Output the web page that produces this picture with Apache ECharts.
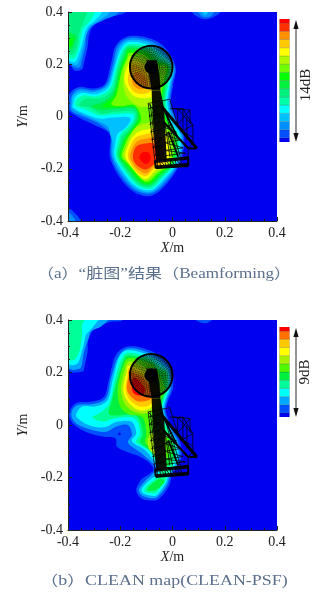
<!DOCTYPE html>
<html><head><meta charset="utf-8">
<style>html,body{margin:0;padding:0;background:#fff}#c{width:326px;height:597px}</style>
<script src="https://cdn.jsdelivr.net/npm/echarts@6/dist/echarts.min.js"></script>
</head><body><div id="c"></div>
<script>
const ticks=[-0.4,-0.2,0,0.2,0.4];
const captionA='（a）“脏图”结果（Beamforming）';
const captionB='（b）CLEAN map(CLEAN-PSF)';
const rangeA='14dB', rangeB='9dB';
const coloursA=['#0000f0','#0050ff','#0090ff','#00c0ff','#00ffff','#00ffa8','#00f080','#00f040','#00ff00','#70ff00','#b0f800','#ffff00','#ffc800','#ff9000','#ff3000','#ff0000'];
const coloursB=['#0000f0','#0050ff','#00a8ff','#00ffff','#00ff98','#00f040','#50f800','#a8f000','#ffff00','#ffc800','#ff7000','#ff0000'];

// Contours: [band, [[x,y],...]] in metres, painted in order.
const contoursA=[
[1,[[-.165,.308],[-.09,.30],[-.03,.265],[.012,.19],[.002,.12],[-.005,.05],[.02,-.02],[.045,-.08],[.03,-.175],[-.02,-.255],[-.08,-.303],[-.146,-.29],[-.203,-.232],[-.24,-.154],[-.24,-.07],[-.293,-.035],[-.356,-.005],[-.40,.03],[-.393,.088],[-.356,.113],[-.30,.107],[-.257,.127],[-.235,.204],[-.216,.273]]],
[1,[[-.45,.45],[-.16,.45],[-.176,.4],[-.24,.38],[-.296,.353],[-.318,.318],[-.325,.267],[-.338,.209],[-.347,.18],[-.376,.177],[-.395,.203],[-.45,.24]]],
[1,[[.07,.43],[.19,.43],[.185,.4],[.155,.38],[.125,.372],[.095,.382],[.075,.4]]],
[1,[[-.43,-.35],[-.39,-.355],[-.35,-.41],[-.43,-.43]]],
[2,[[-.165,.30],[-.09,.291],[-.035,.255],[.008,.19],[-.003,.12],[-.01,.05],[.013,-.02],[.04,-.08],[.026,-.175],[-.025,-.25],[-.08,-.294],[-.143,-.282],[-.197,-.226],[-.233,-.154],[-.233,-.07],[-.248,-.053],[-.286,-.025],[-.35,.003],[-.389,.026],[-.385,.081],[-.354,.106],[-.30,.1],[-.252,.123],[-.228,.2],[-.21,.268]]],
[2,[[-.45,.45],[-.19,.45],[-.21,.395],[-.262,.37],[-.31,.345],[-.331,.31],[-.334,.267],[-.347,.216],[-.354,.19],[-.372,.188],[-.398,.203],[-.45,.25]]],
[2,[[.085,.43],[.17,.43],[.15,.388],[.125,.38],[.105,.39]]],
[2,[[-.43,-.37],[-.395,-.37],[-.37,-.41],[-.43,-.43]]],
[3,[[-.165,.293],[-.09,.283],[-.04,.247],[.004,.19],[-.008,.12],[-.015,.05],[.006,-.02],[.035,-.08],[.021,-.175],[-.03,-.245],[-.08,-.288],[-.14,-.276],[-.192,-.22],[-.228,-.154],[-.229,-.104],[-.239,-.066],[-.248,-.038],[-.286,-.017],[-.344,.008],[-.382,.03],[-.385,.05],[-.38,.081],[-.35,.098],[-.30,.094],[-.248,.12],[-.223,.197],[-.204,.262]]],
[3,[[-.45,.45],[-.23,.45],[-.24,.4],[-.28,.368],[-.32,.337],[-.341,.267],[-.353,.222],[-.363,.2],[-.376,.198],[-.398,.209],[-.45,.25]]],
[3,[[.105,.43],[.15,.43],[.13,.39],[.115,.395]]],
[3,[[-.43,-.39],[-.385,-.41],[-.43,-.43]]],
[4,[[-.165,.285],[-.095,.275],[-.045,.24],[0,.19],[-.012,.12],[-.02,.05],[-.003,-.02],[.03,-.08],[.016,-.175],[-.034,-.24],[-.08,-.281],[-.137,-.27],[-.187,-.215],[-.221,-.154],[-.219,-.104],[-.21,-.066],[-.184,-.047],[-.161,-.017],[-.171,-.002],[-.235,-.004],[-.28,-.008],[-.344,.014],[-.38,.034],[-.38,.043],[-.372,.075],[-.344,.09],[-.295,.085],[-.244,.113],[-.219,.194],[-.198,.256]]],
[4,[[-.45,.45],[-.26,.45],[-.27,.4],[-.3,.365],[-.33,.335],[-.349,.267],[-.362,.229],[-.37,.211],[-.38,.208],[-.398,.216],[-.45,.25]]],
[4,[[.11,.43],[.145,.43],[.128,.395]]],
[5,[[-.165,.277],[-.095,.268],[-.05,.232],[-.005,.19],[-.017,.12],[-.025,.05],[-.008,-.02],[.026,-.08],[.012,-.175],[-.038,-.235],[-.08,-.275],[-.134,-.264],[-.182,-.21],[-.215,-.154],[-.21,-.104],[-.197,-.066],[-.171,-.04],[-.148,-.008],[-.158,.011],[-.229,.008],[-.28,.005],[-.331,.026],[-.372,.043],[-.363,.069],[-.338,.081],[-.29,.078],[-.239,.107],[-.214,.19],[-.193,.25]]],
[5,[[-.45,.45],[-.3,.45],[-.3,.395],[-.32,.36],[-.344,.331],[-.357,.267],[-.37,.231],[-.38,.221],[-.398,.226],[-.45,.25]]],
[6,[[-.165,.27],[-.1,.26],[-.055,.225],[-.01,.19],[-.022,.12],[-.03,.05],[-.012,-.02],[.021,-.08],[.008,-.175],[-.042,-.23],[-.085,-.269],[-.131,-.258],[-.178,-.205],[-.21,-.154],[-.203,-.104],[-.19,-.072],[-.165,-.047],[-.142,-.008],[-.152,.02],[-.222,.017],[-.274,.011],[-.318,.034],[-.359,.043],[-.331,.069],[-.28,.069],[-.231,.1],[-.209,.186],[-.188,.244]]],
[6,[[-.45,.45],[-.33,.45],[-.33,.39],[-.354,.331],[-.364,.273],[-.376,.244],[-.385,.236],[-.398,.239],[-.45,.26]]],
[7,[[-.165,.264],[-.1,.252],[-.06,.218],[-.014,.19],[-.027,.12],[-.035,.05],[-.016,-.02],[.017,-.08],[.004,-.175],[-.046,-.226],[-.085,-.262],[-.128,-.252],[-.173,-.2],[-.205,-.154],[-.197,-.11],[-.184,-.079],[-.158,-.047],[-.135,-.008],[-.146,.03],[-.216,.03],[-.267,.024],[-.312,.039],[-.267,.056],[-.226,.094],[-.204,.182],[-.183,.238]]],
[7,[[-.45,.33],[-.372,.312],[-.376,.28],[-.385,.257],[-.398,.257],[-.45,.26]]],
[8,[[-.165,.254],[-.1,.244],[-.065,.21],[-.018,.19],[-.032,.12],[-.04,.05],[-.02,-.02],[.012,-.08],[0,-.175],[-.05,-.222],[-.085,-.256],[-.125,-.246],[-.168,-.195],[-.2,-.154],[-.19,-.11],[-.178,-.081],[-.152,-.047],[-.129,-.008],[-.146,.037],[-.216,.034],[-.267,.039],[-.248,.056],[-.22,.088],[-.199,.178],[-.178,.232]]],
[8,[[-.45,.3],[-.385,.3],[-.382,.285],[-.39,.268],[-.45,.27]]],
[9,[[-.165,.244],[-.105,.235],[-.07,.2],[-.024,.19],[-.037,.12],[-.045,.05],[-.026,-.02],[.006,-.08],[-.005,-.175],[-.055,-.217],[-.09,-.25],[-.12,-.24],[-.163,-.19],[-.195,-.154],[-.184,-.11],[-.17,-.08],[-.146,-.047],[-.12,-.008],[-.146,.043],[-.197,.039],[-.235,.047],[-.214,.085],[-.194,.178],[-.174,.225]]],
[10,[[-.165,.231],[-.11,.22],[-.07,.19],[-.05,.12],[-.055,.06],[-.09,.04],[-.125,.038],[-.16,.06],[-.185,.1],[-.186,.178],[-.172,.215]]],
[10,[[-.1,-.026],[-.05,-.02],[-.01,-.08],[-.01,-.175],[-.06,-.212],[-.095,-.243],[-.12,-.235],[-.155,-.19],[-.188,-.154],[-.176,-.11],[-.155,-.06],[-.13,-.035]]],
[11,[[-.155,.217],[-.11,.2],[-.075,.16],[-.065,.11],[-.08,.075],[-.13,.072],[-.16,.09],[-.184,.139],[-.173,.19]]],
[11,[[-.1,-.05],[-.06,-.045],[-.02,-.08],[-.017,-.175],[-.064,-.205],[-.098,-.238],[-.125,-.228],[-.155,-.195],[-.18,-.154],[-.17,-.11],[-.15,-.075],[-.125,-.056]]],
[12,[[-.15,.2],[-.11,.18],[-.085,.14],[-.08,.105],[-.1,.088],[-.135,.088],[-.158,.105],[-.171,.139],[-.163,.18]]],
[12,[[-.1,-.067],[-.065,-.065],[-.03,-.095],[-.03,-.17],[-.07,-.2],[-.1,-.228],[-.128,-.218],[-.15,-.195],[-.171,-.154],[-.16,-.11],[-.14,-.08]]],
[13,[[-.14,.17],[-.105,.15],[-.095,.12],[-.115,.105],[-.14,.11],[-.155,.135]]],
[13,[[-.1,-.084],[-.07,-.082],[-.04,-.11],[-.043,-.165],[-.075,-.193],[-.1,-.218],[-.13,-.205],[-.148,-.185],[-.162,-.154],[-.15,-.115],[-.13,-.092]]],
[14,[[-.1,-.103],[-.075,-.103],[-.055,-.125],[-.052,-.16],[-.08,-.19],[-.103,-.203],[-.128,-.193],[-.148,-.17],[-.15,-.14],[-.135,-.112]]],
[15,[[-.103,-.135],[-.09,-.14],[-.083,-.155],[-.088,-.172],[-.103,-.182],[-.118,-.172],[-.127,-.155],[-.118,-.14]]]
];
const contoursB=[
[1,[[-.165,.30],[-.09,.285],[-.03,.25],[0,.2],[.002,.14],[-.016,.095],[-.025,.05],[0,-.01],[.028,-.06],[.035,-.12],[.02,-.16],[0,-.185],[-.015,-.235],[-.05,-.28],[-.082,-.288],[-.12,-.279],[-.139,-.247],[-.12,-.209],[-.094,-.19],[-.073,-.171],[-.088,-.145],[-.126,-.12],[-.178,-.101],[-.213,-.082],[-.219,-.05],[-.267,-.044],[-.331,-.027],[-.382,.007],[-.395,.045],[-.37,.083],[-.306,.09],[-.261,.109],[-.242,.179],[-.216,.268]]],
[1,[[-.45,.45],[-.17,.45],[-.19,.4],[-.24,.392],[-.298,.367],[-.323,.322],[-.325,.28],[-.338,.217],[-.344,.204],[-.382,.2],[-.398,.21],[-.45,.25]]],
[1,[[.085,.43],[.16,.43],[.15,.4],[.13,.388],[.11,.39],[.09,.4]]],
[2,[[-.165,.292],[-.09,.275],[-.035,.24],[-.008,.2],[-.006,.14],[-.022,.095],[-.03,.05],[-.008,-.01],[.02,-.06],[.027,-.12],[.012,-.16],[-.007,-.185],[-.022,-.23],[-.055,-.272],[-.078,-.279],[-.114,-.27],[-.129,-.247],[-.107,-.215],[-.08,-.19],[-.062,-.165],[-.082,-.14],[-.12,-.107],[-.17,-.069],[-.155,-.037],[-.171,0],[-.216,-.006],[-.26,-.027],[-.331,-.012],[-.375,.012],[-.387,.045],[-.365,.075],[-.306,.08],[-.255,.102],[-.236,.175],[-.208,.26]]],
[2,[[-.45,.45],[-.22,.45],[-.265,.382],[-.31,.358],[-.321,.331],[-.338,.28],[-.349,.223],[-.363,.213],[-.389,.213],[-.45,.25]]],
[2,[[.105,.43],[.14,.43],[.125,.397]]],
[3,[[-.165,.285],[-.09,.265],[-.04,.23],[-.015,.2],[-.012,.14],[-.028,.095],[-.035,.05],[-.015,-.01],[.012,-.06],[.02,-.12],[.005,-.16],[-.014,-.19],[-.028,-.225],[-.058,-.265],[-.075,-.27],[-.107,-.263],[-.119,-.247],[-.1,-.221],[-.07,-.195],[-.052,-.165],[-.073,-.133],[-.107,-.094],[-.155,-.063],[-.139,-.031],[-.158,.013],[-.216,.011],[-.261,-.009],[-.318,-.002],[-.363,.026],[-.367,.045],[-.344,.071],[-.293,.071],[-.248,.096],[-.229,.172],[-.203,.261]]],
[3,[[-.45,.45],[-.26,.45],[-.3,.38],[-.33,.345],[-.334,.331],[-.347,.28],[-.36,.24],[-.376,.229],[-.398,.232],[-.45,.26]]],
[4,[[-.165,.275],[-.09,.255],[-.045,.22],[-.02,.2],[-.018,.14],[-.033,.095],[-.04,.05],[-.022,-.01],[.005,-.06],[.012,-.12],[-.002,-.16],[-.02,-.195],[-.034,-.22],[-.06,-.255],[-.073,-.26],[-.1,-.256],[-.107,-.247],[-.094,-.228],[-.06,-.2],[-.045,-.165],[-.069,-.126],[-.094,-.094],[-.139,-.065],[-.124,-.031],[-.146,.026],[-.216,.026],[-.267,.013],[-.308,.029],[-.28,.045],[-.242,.083],[-.222,.166],[-.197,.248]]],
[4,[[-.45,.42],[-.33,.42],[-.345,.385],[-.347,.331],[-.357,.28],[-.372,.252],[-.389,.245],[-.398,.248],[-.45,.27]]],
[5,[[-.165,.265],[-.09,.245],[-.05,.21],[-.025,.2],[-.025,.14],[-.038,.095],[-.045,.05],[-.03,-.01],[-.002,-.06],[.005,-.11],[-.01,-.15],[-.04,-.16],[-.065,-.13],[-.082,-.101],[-.124,-.065],[-.114,-.031],[-.139,.036],[-.216,.036],[-.244,.043],[-.236,.08],[-.215,.16],[-.19,.24]]],
[5,[[-.04,-.205],[-.03,-.218],[-.06,-.245],[-.08,-.25],[-.095,-.25],[-.09,-.235],[-.06,-.21]]],
[6,[[-.165,.255],[-.09,.235],[-.055,.2],[-.03,.14],[-.045,.095],[-.05,.05],[-.04,-.01],[-.012,-.06],[-.008,-.1],[-.03,-.14],[-.06,-.13],[-.08,-.095],[-.105,-.065],[-.1,-.03],[-.115,.03],[-.165,.04],[-.2,.07],[-.21,.14],[-.19,.22]]],
[7,[[-.165,.242],[-.1,.215],[-.06,.17],[-.05,.11],[-.075,.055],[-.115,.043],[-.155,.055],[-.185,.085],[-.197,.14],[-.185,.2]]],
[7,[[-.07,-.03],[-.05,-.05],[-.03,-.09],[-.05,-.115],[-.07,-.11],[-.09,-.09],[-.095,-.06],[-.085,-.035]]],
[8,[[-.165,.227],[-.105,.2],[-.065,.16],[-.06,.105],[-.085,.065],[-.12,.055],[-.15,.068],[-.178,.1],[-.188,.14],[-.177,.195]]],
[9,[[-.165,.217],[-.11,.19],[-.075,.15],[-.07,.1],[-.09,.075],[-.12,.07],[-.145,.08],[-.17,.105],[-.18,.14],[-.172,.19]]],
[10,[[-.165,.204],[-.115,.18],[-.085,.14],[-.08,.105],[-.1,.092],[-.13,.09],[-.15,.1],[-.168,.12],[-.175,.145],[-.168,.185]]],
[11,[[-.15,.18],[-.125,.165],[-.105,.135],[-.115,.115],[-.14,.115],[-.155,.135]]],
[0,[[-.203,-.029],[-.198,-.034],[-.203,-.04],[-.208,-.034]]]
];

// Antenna wireframe (same model in both maps), metres.
const dishCentre=[-.0815,.189], dishRadius=.0815;
const dishRings=[.008,.014,.02,.026,.032,.038,.044,.05,.056,.062,.068,.074];
const dishSpokes=[0,8,16,24,32,40,48,56,64,72,80,88,96,104,112,120,128,136,144,152,160,168,176,184,192,200,208,216,224,232,240,248,256,264,272,280,288,296,304,312,320,328,336,344,352];
const solidParts=[
 [[-.1,.215],[-.06,.215],[-.05,.16],[-.046,.1],[-.08,.1]],
 [[-.08,.1],[-.046,.1],[-.032,.03],[-.022,-.166],[-.062,-.17],[-.076,0]],
 [[-.067,-.166],[.06,-.154],[.06,-.166],[-.066,-.178]],
 [[-.068,-.188],[.06,-.178],[.06,-.19],[-.064,-.2]]
];
const frameLines=[
 [-.093,.05,-.01,.066],[-.093,.05,-.064,-.198],[-.085,.048,-.056,-.198],
 [-.093,.03,-.05,.04],[-.09,0,-.05,.01],[-.087,-.03,-.05,-.02],[-.084,-.06,-.045,-.05],[-.08,-.09,-.04,-.08],[-.076,-.12,-.035,-.11],[-.07,-.15,-.03,-.14],
 [-.093,.05,-.05,0],[-.09,0,-.05,.04],[-.087,-.03,-.05,.01],[-.084,-.06,-.05,-.02],[-.08,-.09,-.045,-.05],[-.076,-.12,-.04,-.08],[-.07,-.15,-.035,-.11],
 [-.03,.03,.02,-.154],[-.02,.01,.03,-.154],[-.03,-.02,-.01,-.154],[-.02,-.06,0,-.154],
 [-.035,-.04,0,-.03],[-.032,-.07,.015,-.06],[-.03,-.1,.03,-.09],[-.028,-.13,.04,-.12],[-.028,-.15,.05,-.14],
 [-.035,-.04,.015,-.06],[-.032,-.07,.03,-.09],[-.03,-.1,.04,-.12],[-.028,-.13,.05,-.14],
 [-.01,.066,0,.03],[0,.03,.067,.025],[.067,.025,.067,-.025],[.067,-.025,.078,-.033],[.078,-.033,.078,-.101],[.078,-.101,.06,-.122],
 [-.01,.03,.04,.03],[.02,.03,.067,-.025],[.067,.025,.02,-.03],[.04,.03,.078,-.033],[.078,-.033,.03,-.06],[.078,-.08,.045,-.06],
 [.06,-.122,.06,-.154],[0,.03,.02,-.03],[.02,.03,.02,-.03],[.04,.03,.04,-.06],[.055,0,.055,-.09]
];
const struts=[
 [-.041,.037,.093,-.122,3],[-.035,-.02,.06,-.122,2.2],[-.016,-.058,.022,-.154,1.8],[.093,-.122,.06,-.122,2],[-.045,.05,.02,-.08,1.6],
 [-.067,-.169,-.064,-.198,2],[.06,-.154,.06,-.19,2],[-.067,-.169,.06,-.154,1.2],[-.064,-.198,.06,-.19,1.5]
];
const baseLacing=[[-.05,-.165,-.045,-.195],[-.03,-.165,-.025,-.195],[-.01,-.163,-.005,-.193],[.01,-.16,.015,-.192],[.03,-.158,.035,-.19],[-.05,-.165,-.025,-.195],[-.03,-.165,-.005,-.193],[-.01,-.163,.015,-.192],[.01,-.16,.035,-.19]];

// Closed Catmull-Rom outline through the read points (drawing only, in pixels).
function outline(pts){
  const n=pts.length,out=[];
  if(n<4) return pts;
  for(let i=0;i<n;i++){
    const a=pts[(i+n-1)%n],b=pts[i],c=pts[(i+1)%n],d=pts[(i+2)%n];
    for(let k=0;k<6;k++){const t=k/6,t2=t*t,t3=t2*t;
      out.push([.5*(2*b[0]+(c[0]-a[0])*t+(2*a[0]-5*b[0]+4*c[0]-d[0])*t2+(3*b[0]-a[0]-3*c[0]+d[0])*t3),
                .5*(2*b[1]+(c[1]-a[1])*t+(2*a[1]-5*b[1]+4*c[1]-d[1])*t2+(3*b[1]-a[1]-3*c[1]+d[1])*t3)]);}
  }
  return out;
}
function contourSeries(list,colours,idx){
  return {type:'custom',xAxisIndex:idx,yAxisIndex:idx,clip:true,silent:true,z:2,
    data:list.map((c,i)=>[i]),encode:{x:-1,y:-1},
    renderItem:(p,api)=>{const c=list[api.value(0)];
      return {type:'polygon',shape:{points:outline(c[1].map(q=>api.coord(q)))},style:{fill:colours[c[0]]}};}};
}
function wireSeries(idx){
  return {type:'custom',xAxisIndex:idx,yAxisIndex:idx,clip:false,silent:true,z:3,data:[[0]],encode:{x:-1,y:-1},
    renderItem:(p,api)=>{
      const ch=[];
      const seg=(a,b,c,d,w,o)=>{const s=api.coord([a,b]),e=api.coord([c,d]);ch.push({type:'line',shape:{x1:s[0],y1:s[1],x2:e[0],y2:e[1]},style:{stroke:'#000',lineWidth:w,opacity:o}});};
      const c0=api.coord(dishCentre), rp=api.size([dishRadius,0])[0];
      ch.push({type:'circle',shape:{cx:c0[0],cy:c0[1],r:rp},style:{fill:'rgba(0,0,0,.3)'}});
      dishRings.forEach(r=>ch.push({type:'circle',shape:{cx:c0[0],cy:c0[1],r:api.size([r,0])[0]},style:{fill:'none',stroke:'#000',lineWidth:1,lineDash:[1.2,1],opacity:.6}}));
      dishSpokes.forEach(a=>{const t=a*Math.PI/180;
        ch.push({type:'line',shape:{x1:c0[0],y1:c0[1],x2:c0[0]+rp*Math.cos(t),y2:c0[1]-rp*Math.sin(t)},style:{stroke:'#000',lineWidth:.7,lineDash:[1,1],opacity:.6}});});
      ch.push({type:'circle',shape:{cx:c0[0],cy:c0[1],r:rp},style:{fill:'none',stroke:'#000',lineWidth:2}});
      ch.push({type:'circle',shape:{cx:c0[0],cy:c0[1],r:api.size([.025,0])[0]},style:{fill:'#000'}});
      solidParts.forEach(s=>ch.push({type:'polygon',shape:{points:s.map(q=>api.coord(q))},style:{fill:'#000',opacity:.93}}));
      frameLines.forEach(f=>seg(f[0],f[1],f[2],f[3],.9,.85));
      baseLacing.forEach(f=>seg(f[0],f[1],f[2],f[3],.9,.9));
      struts.forEach(f=>seg(f[0],f[1],f[2],f[3],f[4],1));
      return {type:'group',children:ch};
    }};
}
function barSeries(colours,idx){
  return {type:'custom',xAxisIndex:idx,yAxisIndex:idx,silent:true,clip:true,z:2,data:colours.map((c,i)=>[i]),encode:{x:-1,y:-1},
    renderItem:(p,api)=>{const i=api.value(0);
      const a=api.coord([0,i-.5]),b=api.coord([1,i+.5]);
      return {type:'rect',shape:{x:a[0],y:b[1],width:b[0]-a[0],height:a[1]-b[1]},style:{fill:colours[i],stroke:'rgba(60,60,60,.35)',lineWidth:.5}};}};
}
const serif="'Liberation Serif','Noto Sans CJK SC',serif";
const valAxis=(nameTxt,idx,gap,rot)=>({type:'value',gridIndex:idx,min:-.4,max:.4,interval:.2,
  name:nameTxt,nameLocation:'middle',nameGap:gap,nameRotate:rot,
  nameTextStyle:{color:'#222',fontFamily:serif,fontSize:14,rich:{i:{fontStyle:'italic',fontFamily:serif,fontSize:14,color:'#222'},n:{fontFamily:serif,fontSize:14,color:'#222'}}},
  axisLine:{show:true,onZero:false,lineStyle:{color:'#222',width:1}},
  axisTick:{show:true,inside:true,length:4,lineStyle:{color:'#222',width:1}},
  minorTick:{show:true,splitNumber:4,length:2,lineStyle:{color:'#222',width:1}},
  splitLine:{show:false},
  axisLabel:{color:'#222',fontFamily:serif,fontSize:14,margin:5,hideOverlap:false,showMinLabel:true,showMaxLabel:true,
    formatter:v=>{const r=Math.round(v*10)/10;return ticks.includes(r)?String(r):'';}},
  z:5});
const hidden=(idx,min,max)=>({type:'value',gridIndex:idx,min,max,show:false});
function arrow(x,y1,y2){
  return [
   {type:'line',shape:{x1:x,y1:y1+4,x2:x,y2:y2-4},style:{stroke:'#7a7a7a',lineWidth:1.6}},
   {type:'polygon',shape:{points:[[x,y1],[x-2.6,y1+9],[x+2.6,y1+9]]},style:{fill:'#111'}},
   {type:'polygon',shape:{points:[[x,y2],[x-2.6,y2-9],[x+2.6,y2-9]]},style:{fill:'#111'}}];
}
function rotText(t,x,y){return {type:'text',x,y,rotation:Math.PI/2,style:{text:t,fill:'#222',font:"15px 'Liberation Serif',serif",align:'center',verticalAlign:'middle'}};}
function caption(t,x,y,sx){return {type:'text',x,y,scaleX:sx,style:{text:t,fill:'#5a6f8c',font:"14px 'Liberation Serif','Noto Sans CJK SC',serif",align:'center',verticalAlign:'middle'}};}

const option={backgroundColor:'#fff',animation:false,
 grid:[
  {left:68,top:12,width:209,height:209,backgroundColor:coloursA[0],show:true,borderWidth:0},
  {left:68,top:320,width:209,height:210,backgroundColor:coloursB[0],show:true,borderWidth:0},
  {left:279.5,top:19,width:10,height:123},
  {left:279.5,top:327,width:10,height:90}],
 xAxis:[valAxis('{i|X}{n|/m}',0,18,0),valAxis('{i|X}{n|/m}',1,18,0),hidden(2,0,1),hidden(3,0,1)],
 yAxis:[valAxis('{i|Y}{n|/m}',0,25,90),valAxis('{i|Y}{n|/m}',1,25,90),hidden(2,0,coloursA.length-1),hidden(3,0,coloursB.length-1)],
 series:[contourSeries(contoursA,coloursA,0),contourSeries(contoursB,coloursB,1),wireSeries(0),wireSeries(1),barSeries(coloursA,2),barSeries(coloursB,3)],
 graphic:[].concat(arrow(296,20,142),arrow(296,328,417),[rotText(rangeA,306,85),rotText(rangeB,305,372),caption(captionA,164,274,1.22),caption(captionB,164,581,1.28)])
};
const chart=echarts.init(document.getElementById('c'),null,{renderer:'canvas',width:326,height:597});
chart.setOption(option);
</script></body></html>
